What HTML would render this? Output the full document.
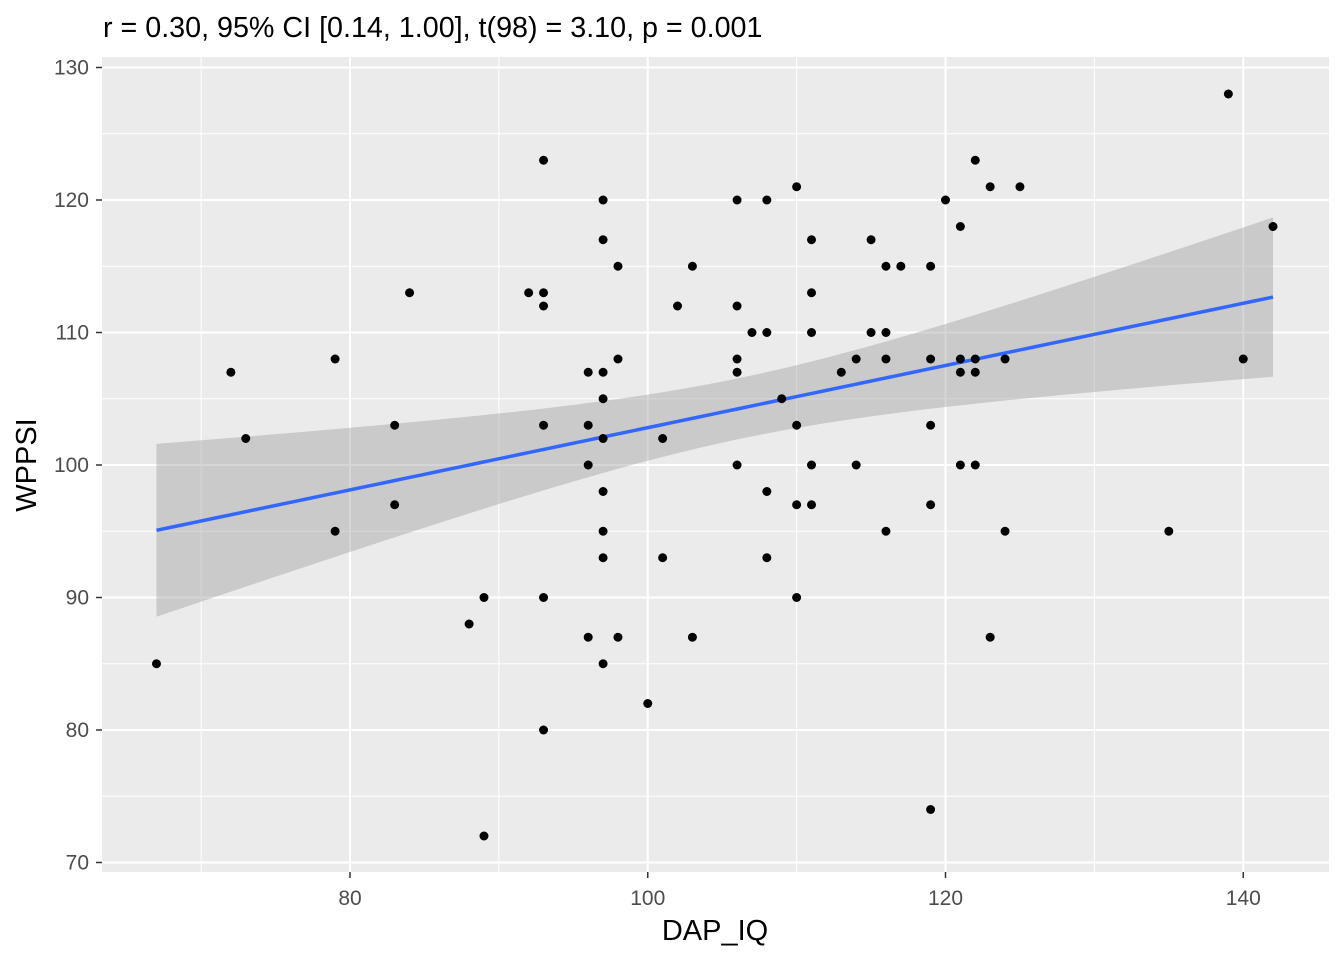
<!DOCTYPE html>
<html><head><meta charset="utf-8"><style>
body{margin:0;background:#fff;font-family:"Liberation Sans",sans-serif}
svg text{font-family:"Liberation Sans",sans-serif}
</style></head><body>
<svg id="chart" width="1344" height="960" xmlns="http://www.w3.org/2000/svg">
<rect x="0" y="0" width="1344" height="960" fill="#fff"/>
<text x="103" y="37" font-size="28.7" fill="#000">r = 0.30, 95% CI [0.14, 1.00], t(98) = 3.10, p = 0.001</text>
<rect x="102" y="57" width="1227" height="815" fill="#ebebeb"/>
<g id="grid"></g>
<g id="band"></g>
<g id="points"></g>
<g id="axes"></g>
<text x="715" y="940" font-size="29" text-anchor="middle" fill="#000">DAP_IQ</text>
<text transform="translate(36,465) rotate(-90)" font-size="29" text-anchor="middle" fill="#000">WPPSI</text>
</svg>
<script>
const xTicks=[80,100,120,140];
const yTicks=[70,80,90,100,110,120,130];
const dapIQ=[67,72,73,79,79,83,83,84,88,89,89,92,93,93,93,93,93,93,96,96,96,96,97,97,97,97,97,97,97,97,97,98,98,98,100,101,101,102,103,103,106,106,106,106,106,107,108,108,108,108,109,110,110,110,110,111,111,111,111,111,113,114,114,115,115,116,116,116,116,117,119,119,119,119,119,120,121,121,121,121,122,122,122,122,123,123,124,124,125,135,139,140,142];
const wppsi=[85,107,102,108,95,103,97,113,88,90,72,113,123,113,112,103,90,80,107,103,100,87,120,117,107,105,102,98,95,93,85,115,108,87,82,102,93,112,115,87,120,112,108,107,100,110,120,110,98,93,105,121,103,97,90,117,113,110,100,97,107,108,100,117,110,115,110,108,95,115,115,108,103,97,74,120,118,108,107,100,123,108,107,100,121,87,108,95,121,95,128,108,118];
const NS='http://www.w3.org/2000/svg';
const X=v=>350+(v-80)*14.8875;
const Y=v=>465-(v-100)*13.25;
function mk(tag,attrs,parent){const e=document.createElementNS(NS,tag);for(const k in attrs)e.setAttribute(k,attrs[k]);document.getElementById(parent).appendChild(e);return e;}
for(let i=0;i<xTicks.length;i++){const v=xTicks[i];
 const l=mk('line',{x1:X(v),x2:X(v),y1:57,y2:872,stroke:'#fff','stroke-width':2},'grid');
 
 
 const m=v-10;const lm=mk('line',{x1:X(m),x2:X(m),y1:57,y2:872,stroke:'#fff','stroke-width':1},'grid');
 
 
 const t=mk('text',{x:X(v),y:905,'font-size':21,'text-anchor':'middle',fill:'#4d4d4d'},'axes');t.textContent=v;
 
 
 mk('line',{x1:X(v),x2:X(v),y1:872,y2:878,stroke:'#333','stroke-width':1.5},'axes');
}
for(let i=0;i<yTicks.length;i++){const v=yTicks[i];
 const l=mk('line',{x1:102,x2:1329,y1:Y(v),y2:Y(v),stroke:'#fff','stroke-width':2},'grid');
 
 
 if(i<yTicks.length-1){const lm=mk('line',{x1:102,x2:1329,y1:Y(v+5),y2:Y(v+5),stroke:'#fff','stroke-width':1},'grid');
 
 }
 const t=mk('text',{x:89,y:Y(v)+7,'font-size':21,'text-anchor':'end',fill:'#4d4d4d'},'axes');t.textContent=v;
 
 
 mk('line',{x1:96,x2:102,y1:Y(v),y2:Y(v),stroke:'#333','stroke-width':1.5},'axes');
}
const n=dapIQ.length;let mx=0,my=0;for(let i=0;i<n;i++){mx+=dapIQ[i];my+=wppsi[i];}mx/=n;my/=n;
let sxx=0,sxy=0;for(let i=0;i<n;i++){sxx+=(dapIQ[i]-mx)**2;sxy+=(dapIQ[i]-mx)*(wppsi[i]-my);}
const b=sxy/sxx,a=my-b*mx;let sse=0;for(let i=0;i<n;i++)sse+=(wppsi[i]-a-b*dapIQ[i])**2;
const s=Math.sqrt(sse/(n-2));const tq=1.985;
const xmin=Math.min(...dapIQ),xmax=Math.max(...dapIQ);
let up=[],lo=[],ln=[];
for(let k=0;k<=80;k++){const x=xmin+(xmax-xmin)*k/80;const f=a+b*x;const se=s*Math.sqrt(1/n+(x-mx)**2/sxx);
 up.push(X(x)+','+Y(f+tq*se));lo.unshift(X(x)+','+Y(f-tq*se));ln.push(X(x)+','+Y(f));}
const band=mk('polygon',{points:up.concat(lo).join(' '),fill:'#999','fill-opacity':0.4},'band');


const rl=mk('polyline',{points:ln.join(' '),fill:'none',stroke:'#3366ff','stroke-width':3.5},'band');


for(let i=0;i<n;i++){const c=mk('circle',{cx:X(dapIQ[i]),cy:Y(wppsi[i]),r:4.5,fill:'#000'},'points');
 
 }
</script>
</body></html>
